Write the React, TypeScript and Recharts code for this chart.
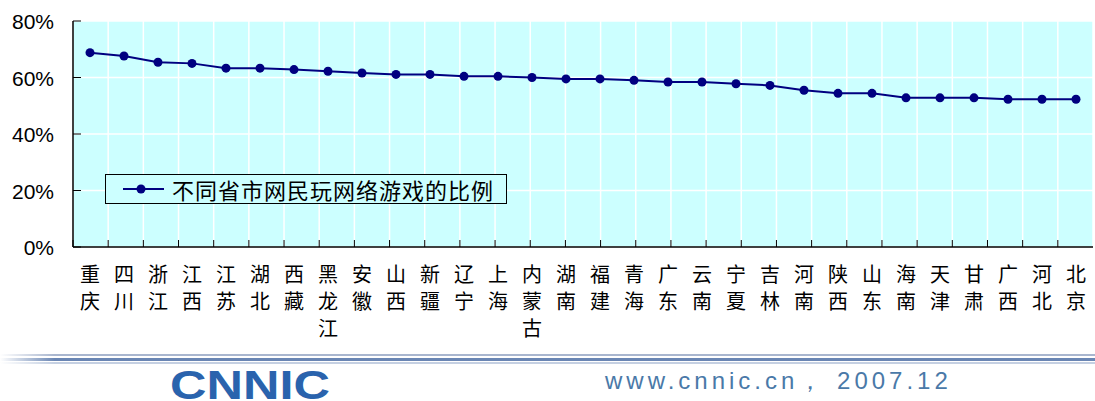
import React from 'react';
import { LineChart, Line, XAxis, YAxis, CartesianGrid, ReferenceArea } from 'recharts';

const provinces = [
  '重庆', '四川', '浙江', '江西', '江苏', '湖北', '西藏', '黑龙江', '安徽', '山西',
  '新疆', '辽宁', '上海', '内蒙古', '湖南', '福建', '青海', '广东', '云南', '宁夏',
  '吉林', '河南', '陕西', '山东', '海南', '天津', '甘肃', '广西', '河北', '北京'
];
const shares = [
  68.8, 67.6, 65.4, 65.0, 63.3, 63.3, 62.8, 62.2, 61.6, 61.1,
  61.1, 60.4, 60.4, 60.0, 59.5, 59.5, 59.0, 58.4, 58.4, 57.8,
  57.2, 55.5, 54.4, 54.4, 52.8, 52.8, 52.8, 52.3, 52.3, 52.3
];
const yTicks = [0, 20, 40, 60, 80];
const seriesName = '不同省市网民玩网络游戏的比例';
const sourceText = 'www.cnnic.cn， 2007.12';

const data = provinces.map((name, i) => ({ name, share: shares[i] }));
// boundaries between categories, used for the grid and the inner ticks
const bounds = provinces.map((_, i) => i).concat(provinces.length);

const NAVY = '#000080';
const CJK = "'Noto Sans CJK SC', sans-serif";
const SANS = "'Liberation Sans', Arial, sans-serif";

function PercentTick(props: any) {
  const { x, y, payload } = props;
  return (
    <g>
      <line x1={x} x2={x + 8} y1={y} y2={y} stroke="#000" />
      <text x={x - 19} y={y + 8} textAnchor="end" fontSize={21} fontFamily={SANS} fill="#000">
        {payload.value}%
      </text>
    </g>
  );
}

function ProvinceTick(props: any) {
  const { x, y, payload } = props;
  const chars = Array.from(String(payload.value));
  return (
    <g>
      {chars.map((c, i) => (
        <text key={i} x={x} y={y + 35 + i * 27} textAnchor="middle" fontSize={20} fontFamily={CJK} fill="#000">
          {c}
        </text>
      ))}
    </g>
  );
}

export default function App() {
  return (
    <div style={{ position: 'absolute', left: 0, top: 0, width: 1095, height: 401, background: '#fff', overflow: 'hidden' }}>
      <LineChart width={1095} height={350} data={data} margin={{ top: 21, right: 2, bottom: 0, left: 0 }}>
        <CartesianGrid xAxisId="grid" fill="#CCFFFF" fillOpacity={1} stroke="#ffffff" strokeWidth={1.5} />
        <XAxis
          xAxisId="grid"
          type="number"
          domain={[0, provinces.length]}
          ticks={bounds}
          allowDataOverflow
          mirror
          axisLine={false}
          tickSize={7}
          tickLine={{ stroke: '#000' }}
          tickFormatter={() => ''}
        />
        <XAxis
          xAxisId="cat"
          dataKey="name"
          scale="band"
          interval={0}
          height={103}
          tickLine={false}
          tickSize={0}
          tickMargin={0}
          axisLine={{ stroke: '#000', strokeWidth: 1.5 }}
          tick={<ProvinceTick />}
        />
        <YAxis
          domain={[0, 80]}
          ticks={yTicks}
          width={73}
          tickLine={false}
          tickSize={0}
          tickMargin={0}
          axisLine={{ stroke: '#000', strokeWidth: 1.5 }}
          tick={<PercentTick />}
        />
        <ReferenceArea xAxisId="grid" x1={0} x2={provinces.length} y1={0} y2={80} fill="none" stroke="#333" strokeWidth={1} />
        <Line
          xAxisId="cat"
          type="linear"
          dataKey="share"
          name={seriesName}
          stroke={NAVY}
          strokeWidth={2}
          dot={{ r: 4.5, fill: NAVY, stroke: NAVY, strokeWidth: 0 }}
          activeDot={false}
          isAnimationActive={false}
        />
      </LineChart>

      <div
        style={{
          position: 'absolute', left: 105, top: 174, width: 400, height: 28,
          border: '1px solid #000', background: '#CCFFFF', display: 'flex', alignItems: 'center'
        }}
      >
        <svg width={62} height={28} style={{ flex: 'none' }}>
          <line x1={17} x2={58} y1={14} y2={14} stroke={NAVY} strokeWidth={2} />
          <circle cx={35} cy={14} r={4.5} fill={NAVY} />
        </svg>
        <span style={{ fontFamily: CJK, fontSize: 22, letterSpacing: 1, color: '#000', marginLeft: 4, lineHeight: '28px', whiteSpace: 'nowrap' }}>
          {seriesName}
        </span>
      </div>

      <div style={{ position: 'absolute', left: 0, top: 354, width: 1095, height: 2, background: 'linear-gradient(to right, #fff, #a9b6cf 5%, #a9b6cf)' }} />
      <div style={{ position: 'absolute', left: 0, top: 358, width: 1095, height: 3, background: 'linear-gradient(to right, #fff, #6a86b4 5%, #6a86b4)' }} />
      <div style={{ position: 'absolute', left: 0, top: 362, width: 1095, height: 2, background: 'linear-gradient(to right, #fff, #c5d0e2 5%, #c5d0e2)' }} />

      <svg width={170} height={34} style={{ position: 'absolute', left: 168, top: 368 }}>
        <text x={2} y={31} fontFamily={SANS} fontWeight="bold" fontSize={40} fill="#2a63ad" textLength={160} lengthAdjust="spacingAndGlyphs">
          CNNIC
        </text>
      </svg>
      <div
        style={{
          position: 'absolute', left: 605, top: 368, fontFamily: SANS,
          fontSize: 24, color: '#4a79a8', letterSpacing: 4, lineHeight: '26px', whiteSpace: 'nowrap'
        }}
      >
        {sourceText}
      </div>
    </div>
  );
}
